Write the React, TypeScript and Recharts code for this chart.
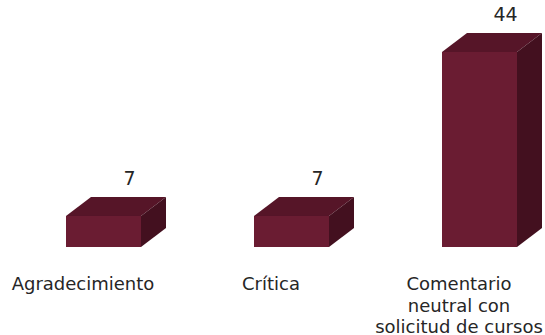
import { BarChart, Bar, XAxis, YAxis, LabelList } from "recharts";

const categories = ["Agradecimiento", "Crítica", "Comentario neutral con solicitud de cursos"];
const values = [7, 7, 44];
const tickLines: Record<string, string[]> = {
  Agradecimiento: ["Agradecimiento"],
  Crítica: ["Crítica"],
  "Comentario neutral con solicitud de cursos": ["Comentario", "neutral con", "solicitud de cursos"],
};

const data = categories.map((name, i) => ({ name, value: values[i] }));

const FONT = "'DejaVu Sans', sans-serif";
const DX = 25;
const DY = 19;

const Box3D = (props: any) => {
  const { x, y, width, height } = props;
  const r = x + width;
  const b = y + height;
  return (
    <g>
      <polygon
        points={`${x},${y} ${x + DX},${y - DY} ${r + DX},${y - DY} ${r},${y}`}
        fill="#561528"
      />
      <polygon
        points={`${r},${y} ${r + DX},${y - DY} ${r + DX},${b - DY} ${r},${b}`}
        fill="#43101f"
      />
      <rect x={x} y={y} width={width} height={height} fill="#6a1c32" />
    </g>
  );
};

const CategoryTick = (props: any) => {
  const { x, payload } = props;
  const lines = tickLines[payload.value] || [payload.value];
  return (
    <text textAnchor="middle" fontFamily={FONT} fontSize={18} fill="#262626">
      {lines.map((line, i) => (
        <tspan key={line} x={x - 20} y={290 + i * 21.5}>
          {line}
        </tspan>
      ))}
    </text>
  );
};

const TopLabel = (props: any) => {
  const { x, y, width, value } = props;
  return (
    <text
      x={x + width / 2 + 26}
      y={y - 31}
      textAnchor="middle"
      fontFamily={FONT}
      fontSize={19}
      fill="#262626"
    >
      {value}
    </text>
  );
};

export default function App() {
  return (
    <div
      style={{
        position: "absolute",
        left: 0,
        top: 0,
        width: 545,
        height: 335,
        overflow: "hidden",
        background: "#fff",
      }}
    >
      <BarChart
        width={580}
        height={335}
        data={data}
        barSize={75}
        margin={{ top: 52, right: 7, bottom: 0, left: 9 }}
      >
        <XAxis
          dataKey="name"
          height={88}
          interval={0}
          axisLine={false}
          tickLine={false}
          tick={<CategoryTick />}
        />
        <YAxis hide domain={[0, 44]} />
        <Bar dataKey="value" shape={<Box3D />} isAnimationActive={false}>
          <LabelList dataKey="value" content={<TopLabel />} />
        </Bar>
      </BarChart>
    </div>
  );
}
